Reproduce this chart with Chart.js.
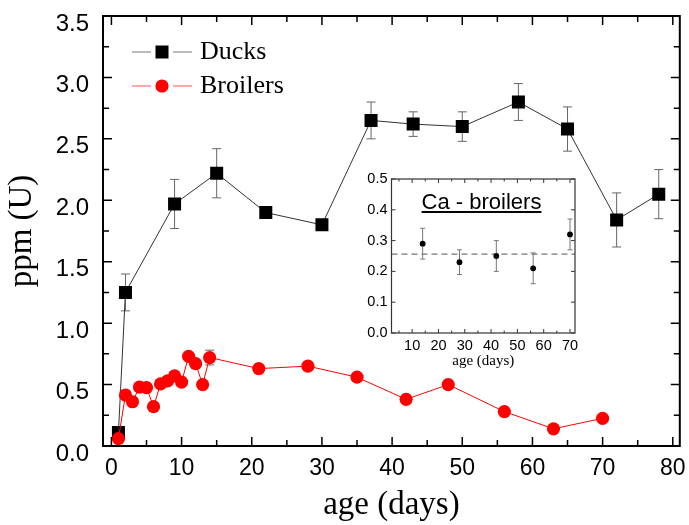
<!DOCTYPE html>
<html>
<head>
<meta charset="utf-8">
<script src="https://cdn.jsdelivr.net/npm/chart.js@4.4.0/dist/chart.umd.min.js"></script>
<style>
  html, body { margin: 0; padding: 0; background: #fff; }
  #wrap { position: relative; width: 689px; height: 525px; }
  #main { position: absolute; left: 0; top: 0; }
  #inset { position: absolute; left: 330px; top: 160px; }
</style>
</head>
<body>
<div id="wrap">
  <canvas id="main" width="689" height="525"></canvas>
  <canvas id="inset" width="270" height="215"></canvas>
</div>
<script>
// ---------- data ----------
const duckAges = [1, 2, 9, 15, 22, 30, 37, 43, 50, 58, 65, 72, 78];
const duckPpm  = [0.11, 1.25, 1.97, 2.22, 1.90, 1.80, 2.65, 2.62, 2.60, 2.80, 2.58, 1.84, 2.05];
const duckErr  = [0.03, 0.15, 0.20, 0.20, 0, 0, 0.15, 0.10, 0.12, 0.15, 0.18, 0.22, 0.20];

const broilerAges = [1, 2, 3, 4, 5, 6, 7, 8, 9, 10, 11, 12, 13, 14, 21, 28, 35, 42, 48, 56, 63, 70];
const broilerPpm  = [0.06, 0.415, 0.36, 0.48, 0.475, 0.32, 0.505, 0.53, 0.57, 0.52, 0.73, 0.67, 0.50, 0.72, 0.63, 0.65, 0.56, 0.38, 0.50, 0.28, 0.14, 0.225];
const broilerErr  = [0, 0, 0, 0, 0, 0, 0, 0, 0, 0, 0, 0, 0, 0.06, 0, 0, 0, 0, 0, 0, 0, 0];

const xTickLabels = [0, 10, 20, 30, 40, 50, 60, 70, 80];
const yTickLabels = [0.0, 0.5, 1.0, 1.5, 2.0, 2.5, 3.0, 3.5];

const insetAges = [14, 28, 42, 56, 70];
const insetCa   = [0.29, 0.23, 0.25, 0.21, 0.32];
const insetErr  = [0.05, 0.04, 0.05, 0.05, 0.05];
const insetMean = 0.256;
const insetXTickLabels = [10, 20, 30, 40, 50, 60, 70];
const insetYTickLabels = [0.0, 0.1, 0.2, 0.3, 0.4, 0.5];

// ---------- plugins ----------
const errorBars = {
  id: 'errorBars',
  beforeDatasetsDraw(chart, args, opts) {
    const ctx = chart.ctx;
    const ys = chart.scales.y;
    chart.data.datasets.forEach((ds, di) => {
      if (!ds.errors) return;
      const meta = chart.getDatasetMeta(di);
      ctx.save();
      ctx.strokeStyle = opts.color || '#666';
      ctx.lineWidth = opts.lineWidth || 1;
      meta.data.forEach((pt, i) => {
        const e = ds.errors[i];
        if (!e) return;
        const v = ds.data[i].y;
        const yt = ys.getPixelForValue(v + e);
        const yb = ys.getPixelForValue(v - e);
        const cw = opts.cap || 4;
        ctx.beginPath();
        ctx.moveTo(pt.x, yt); ctx.lineTo(pt.x, yb);
        ctx.moveTo(pt.x - cw, yt); ctx.lineTo(pt.x + cw, yt);
        ctx.moveTo(pt.x - cw, yb); ctx.lineTo(pt.x + cw, yb);
        ctx.stroke();
      });
      ctx.restore();
    });
  }
};

const frameTicks = {
  id: 'frameTicks',
  afterDraw(chart, args, o) {
    const ctx = chart.ctx;
    const a = chart.chartArea;
    const xs = chart.scales.x, ys = chart.scales.y;
    ctx.save();
    ctx.strokeStyle = o.color;
    ctx.lineWidth = o.tickWidth;
    ctx.beginPath();
    const eps = 1e-9;
    for (let v = Math.ceil(xs.min / o.xMinor - eps) * o.xMinor; v <= xs.max + eps; v += o.xMinor) {
      const isMaj = Math.abs(v / o.xMajor - Math.round(v / o.xMajor)) < 1e-6;
      const L = isMaj ? o.majorLen : o.minorLen;
      const px = xs.getPixelForValue(v);
      ctx.moveTo(px, a.bottom); ctx.lineTo(px, a.bottom - L);
      ctx.moveTo(px, a.top); ctx.lineTo(px, a.top + L);
    }
    for (let v = Math.ceil(ys.min / o.yMinor - eps) * o.yMinor; v <= ys.max + eps; v += o.yMinor) {
      const isMaj = Math.abs(v / o.yMajor - Math.round(v / o.yMajor)) < 1e-6;
      const L = isMaj ? o.majorLen : o.minorLen;
      const py = ys.getPixelForValue(v);
      ctx.moveTo(a.left, py); ctx.lineTo(a.left + L, py);
      ctx.moveTo(a.right, py); ctx.lineTo(a.right - L, py);
    }
    ctx.stroke();
    ctx.lineWidth = o.frameWidth;
    ctx.strokeRect(a.left, a.top, a.right - a.left, a.bottom - a.top);
    ctx.restore();
  }
};

const lineLegend = {
  id: 'lineLegend',
  afterDraw(chart, args, o) {
    if (!o.display) return;
    const ctx = chart.ctx;
    ctx.save();
    chart.data.datasets.forEach((ds, i) => {
      const y = o.y + i * o.spacing;
      const cx = o.x + o.lineLen + o.gap;
      ctx.strokeStyle = ds.legendLine || ds.borderColor;
      ctx.lineWidth = 1;
      ctx.beginPath();
      ctx.moveTo(o.x, y); ctx.lineTo(o.x + o.lineLen, y);
      ctx.moveTo(cx + o.gap, y); ctx.lineTo(cx + o.gap + o.lineLen, y);
      ctx.stroke();
      ctx.fillStyle = ds.pointBackgroundColor;
      ctx.strokeStyle = ds.pointBackgroundColor;
      Chart.helpers.drawPoint(ctx, {pointStyle: ds.pointStyle, radius: ds.pointRadius, borderWidth: 0, rotation: 0}, cx, y);
      ctx.fillStyle = '#000';
      ctx.font = o.font;
      ctx.textBaseline = 'middle';
      ctx.textAlign = 'left';
      ctx.fillText(ds.label, cx + o.gap + o.lineLen + o.textGap, y);
    });
    ctx.restore();
  }
};

const meanLine = {
  id: 'meanLine',
  beforeDatasetsDraw(chart, args, o) {
    if (o.value === undefined) return;
    const ctx = chart.ctx, a = chart.chartArea;
    const py = chart.scales.y.getPixelForValue(o.value);
    ctx.save();
    ctx.strokeStyle = '#777';
    ctx.lineWidth = 1.2;
    ctx.setLineDash([6, 4]);
    ctx.beginPath();
    ctx.moveTo(a.left, py); ctx.lineTo(a.right, py);
    ctx.stroke();
    ctx.restore();
  }
};

const insetTitle = {
  id: 'insetTitle',
  afterDraw(chart, args, o) {
    if (!o.text) return;
    const ctx = chart.ctx, a = chart.chartArea;
    ctx.save();
    ctx.font = o.font;
    ctx.fillStyle = '#000';
    ctx.textAlign = 'center';
    ctx.textBaseline = 'alphabetic';
    const cx = a.left + o.dx;
    const by = a.top + o.dy;
    ctx.fillText(o.text, cx, by);
    const w = ctx.measureText(o.text).width;
    ctx.fillRect(cx - w / 2, by + 2, w, 2);
    ctx.restore();
  }
};

function pts(xs, ys) { return xs.map((x, i) => ({x: x, y: ys[i]})); }
function fixX(h) { return s => { s.height = h; s.paddingLeft = 0; s.paddingRight = 0; s.paddingTop = 0; s.paddingBottom = 0; }; }
function fixY(w) { return s => { s.width = w; s.paddingTop = 0; s.paddingBottom = 0; s.paddingLeft = 0; s.paddingRight = 0; }; }

// ---------- main chart ----------
new Chart(document.getElementById('main'), {
  type: 'line',
  data: {
    datasets: [
      {
        label: 'Ducks',
        data: pts(duckAges, duckPpm),
        errors: duckErr,
        borderColor: '#333',
        legendLine: '#777',
        borderWidth: 1,
        pointStyle: 'rect',
        pointRadius: 9.2,
        pointBackgroundColor: '#000',
        pointBorderWidth: 0,
        order: 1
      },
      {
        label: 'Broilers',
        data: pts(broilerAges, broilerPpm),
        errors: broilerErr,
        borderColor: '#ff0000',
        legendLine: '#ff5050',
        borderWidth: 1,
        pointStyle: 'circle',
        pointRadius: 6.6,
        pointBackgroundColor: '#ff0000',
        pointBorderWidth: 0,
        order: 0
      }
    ]
  },
  options: {
    responsive: false,
    animation: false,
    devicePixelRatio: 1,
    layout: { padding: { top: 16, right: 8, left: 0, bottom: 0 } },
    plugins: {
      legend: { display: false },
      tooltip: { enabled: false },
      errorBars: { color: '#666', lineWidth: 1, cap: 4.5 },
      frameTicks: { color: '#000', tickWidth: 1.5, frameWidth: 2, xMajor: 10, xMinor: 5, yMajor: 0.5, yMinor: 0.25, majorLen: 9, minorLen: 6 },
      lineLegend: { display: true, x: 132, y: 52, spacing: 34, lineLen: 19, gap: 11, textGap: 8, font: '26px "Liberation Serif"' }
    },
    scales: {
      x: {
        type: 'linear',
        min: -1.2, max: 81,
        afterBuildTicks: s => { s.ticks = xTickLabels.map(v => ({value: v})); },
        afterFit: fixX(79),
        grid: { display: false, drawTicks: false },
        border: { display: false },
        ticks: { font: { family: 'Liberation Sans', size: 23 }, color: '#000', padding: 9, maxRotation: 0, callback: v => String(v) },
        title: { display: true, text: 'age (days)', color: '#000', font: { family: 'Liberation Serif', size: 33 }, padding: { top: 0, bottom: 0 } }
      },
      y: {
        type: 'linear',
        min: 0, max: 3.5,
        afterBuildTicks: s => { s.ticks = yTickLabels.map(v => ({value: v})); },
        afterFit: fixY(103),
        grid: { display: false, drawTicks: false },
        border: { display: false },
        ticks: { font: { family: 'Liberation Sans', size: 24 }, color: '#000', padding: 14, labelOffset: 8, callback: v => v.toFixed(1) },
        title: { display: true, text: 'ppm (U)', color: '#000', font: { family: 'Liberation Serif', size: 33 }, padding: { top: 3, bottom: 0 } }
      }
    }
  },
  plugins: [errorBars, frameTicks, lineLegend]
});

// ---------- inset chart ----------
new Chart(document.getElementById('inset'), {
  type: 'line',
  data: {
    datasets: [
      {
        label: 'Ca - broilers',
        data: pts(insetAges, insetCa),
        errors: insetErr,
        showLine: false,
        borderColor: '#000',
        pointStyle: 'circle',
        pointRadius: 2.9,
        pointBackgroundColor: '#000',
        pointBorderWidth: 0
      }
    ]
  },
  options: {
    responsive: false,
    animation: false,
    devicePixelRatio: 1,
    layout: { padding: { top: 19, right: 25, left: 0, bottom: 0 } },
    plugins: {
      legend: { display: false },
      tooltip: { enabled: false },
      errorBars: { color: '#777', lineWidth: 1, cap: 2.5 },
      meanLine: { value: insetMean },
      frameTicks: { color: '#333', tickWidth: 1, frameWidth: 1.2, xMajor: 10, xMinor: 5, yMajor: 0.1, yMinor: 0.1, majorLen: 4, minorLen: 2.5 },
      insetTitle: { text: 'Ca - broilers', font: '22px "Liberation Sans"', dx: 90, dy: 30 }
    },
    scales: {
      x: {
        type: 'linear',
        min: 2.16, max: 71.9,
        afterBuildTicks: s => { s.ticks = insetXTickLabels.map(v => ({value: v})); },
        afterFit: fixX(42),
        grid: { display: false, drawTicks: false },
        border: { display: false },
        ticks: { font: { family: 'Liberation Sans', size: 14.5 }, color: '#000', padding: 4, maxRotation: 0, callback: v => String(v) },
        title: { display: true, text: 'age (days)', color: '#000', font: { family: 'Liberation Serif', size: 15 }, padding: { top: 0, bottom: 5 } }
      },
      y: {
        type: 'linear',
        min: 0, max: 0.5,
        afterBuildTicks: s => { s.ticks = insetYTickLabels.map(v => ({value: v})); },
        afterFit: fixY(61.5),
        grid: { display: false, drawTicks: false },
        border: { display: false },
        ticks: { font: { family: 'Liberation Sans', size: 14.5 }, color: '#000', padding: 4, callback: v => v.toFixed(1) }
      }
    }
  },
  plugins: [errorBars, meanLine, frameTicks, insetTitle]
});
</script>
</body>
</html>
